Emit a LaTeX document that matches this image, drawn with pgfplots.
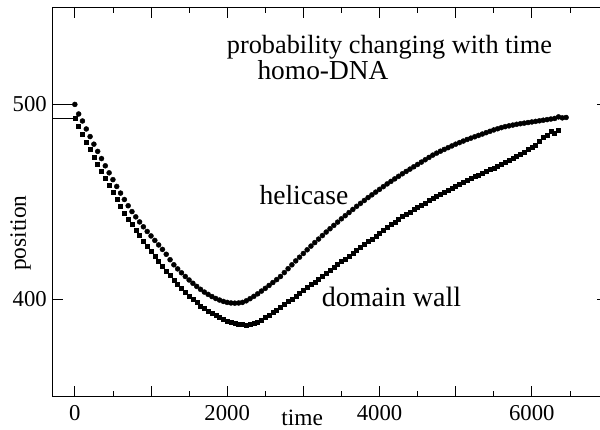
\documentclass[border=0pt]{standalone}
\usepackage{fontspec}
\setmainfont{Liberation Serif}
\usepackage{pgfplots}
\pgfplotsset{compat=1.18}

% helicase position (circles)
\pgfplotstableread{
t pos
0 500.0
50 495.1
100 491.5
150 487.4
200 483.5
250 479.6
300 475.9
350 472.2
400 468.5
450 464.9
500 461.4
550 457.9
600 454.5
650 451.2
700 448.0
750 445.0
800 442.3
850 439.7
900 437.2
950 434.8
1000 432.5
1050 430.2
1100 427.9
1150 425.6
1200 423.1
1250 420.3
1300 417.7
1350 415.6
1400 413.6
1450 411.7
1500 409.9
1550 408.2
1600 406.6
1650 405.1
1700 403.7
1750 402.5
1800 401.4
1850 400.4
1900 399.6
1950 398.9
2000 398.4
2050 398.1
2100 398.0
2150 398.1
2200 398.4
2250 399.2
2300 400.3
2350 401.5
2400 402.8
2450 404.2
2500 405.6
2550 407.1
2600 408.6
2650 410.1
2700 411.7
2750 413.7
2800 415.7
2850 417.7
2900 419.7
2950 421.6
3000 423.5
3050 425.4
3100 427.3
3150 429.1
3200 430.9
3250 432.7
3300 434.5
3350 436.2
3400 437.9
3450 439.6
3500 441.3
3550 442.9
3600 444.5
3650 446.1
3700 447.7
3750 449.2
3800 450.7
3850 452.2
3900 453.6
3950 455.0
4000 456.4
4050 457.8
4100 459.2
4150 460.5
4200 461.8
4250 463.1
4300 464.4
4350 465.6
4400 466.8
4450 468.0
4500 469.2
4550 470.4
4600 471.6
4650 472.8
4700 474.0
4750 475.0
4800 476.0
4850 476.9
4900 477.8
4950 478.7
5000 479.6
5050 480.4
5100 481.2
5150 482.0
5200 482.7
5250 483.4
5300 484.1
5350 484.8
5400 485.5
5450 486.2
5500 486.9
5550 487.5
5600 488.1
5650 488.6
5700 489.0
5750 489.4
5800 489.8
5850 490.1
5900 490.4
5950 490.7
6000 491.0
6050 491.3
6100 491.6
6150 491.9
6200 492.2
6250 492.5
6300 492.8
6350 493.6
6400 493.1
6450 493.3
}\helicase

% domain wall position (squares)
\pgfplotstableread{
t pos
0 493.0
50 489.0
100 484.6
150 480.5
200 476.8
250 473.0
300 469.4
350 465.6
400 462.0
450 458.4
500 454.8
550 451.2
600 447.8
650 444.3
700 441.3
750 438.4
800 435.5
850 432.7
900 429.9
950 427.2
1000 424.6
1050 422.0
1100 419.5
1150 417.0
1200 414.6
1250 412.3
1300 410.0
1350 407.8
1400 405.7
1450 403.7
1500 401.8
1550 400.0
1600 398.3
1650 396.7
1700 395.3
1750 394.0
1800 392.8
1850 391.7
1900 390.7
1950 389.8
2000 389.0
2050 388.3
2100 387.7
2150 387.3
2200 387.0
2250 386.9
2300 387.0
2350 387.5
2400 388.3
2450 389.4
2500 390.6
2550 391.9
2600 393.2
2650 394.5
2700 395.8
2750 397.3
2800 398.8
2850 400.2
2900 401.7
2950 403.2
3000 404.6
3050 406.1
3100 407.6
3150 409.0
3200 410.5
3250 412.0
3300 413.4
3350 414.9
3400 416.4
3450 417.8
3500 419.3
3550 420.8
3600 422.2
3650 423.7
3700 425.2
3750 426.6
3800 428.1
3850 429.6
3900 431.0
3950 432.5
4000 434.0
4050 435.4
4100 436.9
4150 438.3
4200 439.8
4250 441.2
4300 442.6
4350 443.8
4400 444.9
4450 446.1
4500 447.2
4550 448.4
4600 449.5
4650 450.7
4700 451.8
4750 452.9
4800 453.9
4850 455.0
4900 456.0
4950 457.1
5000 458.1
5050 459.2
5100 460.2
5150 461.3
5200 462.2
5250 463.1
5300 463.9
5350 464.8
5400 465.7
5450 466.6
5500 467.4
5550 468.3
5600 469.2
5650 470.3
5700 471.4
5750 472.4
5800 473.5
5850 474.6
5900 475.7
5950 476.8
6000 477.9
6050 479.0
6100 481.0
6150 483.0
6200 484.0
6250 486.2
6300 485.0
6350 487.0
}\domainwall

\begin{document}
\begin{tikzpicture}
\begin{axis}[
  at={(52pt,32.3pt)}, anchor=south west,
  width=556pt, height=389.7pt, scale only axis,
  xmin=-300, xmax=7000, ymin=350, ymax=550,
  xtick={0,1000,...,7000},
  xticklabels={0,,2000,,4000,,6000,},
  minor x tick num=1,
  ytick={400,500},
  tick align=inside,
  major tick length=11pt, minor tick length=6pt,
  axis line style={line width=0.8pt},
  every tick/.style={black, line width=0.8pt},
  /pgf/number format/assume math mode=true,
  ticklabel style={font=\fontsize{22.7}{24}\selectfont, inner sep=0pt},
  xticklabel style={yshift=-9pt},
  yticklabel style={xshift=-5pt},
  xlabel={time}, ylabel={position},
  label style={font=\fontsize{23.4}{25}\selectfont, inner sep=0pt},
  xlabel style={at={(axis description cs:0.45,0)}, anchor=north, yshift=-13pt},
  ylabel style={at={(axis description cs:-0.0378,0.42)}, anchor=south},
]
\addplot[black, line width=0.8pt] coordinates {(-300,500) (0,500)};
\addplot[black, line width=0.8pt] coordinates {(-300,493) (0,493)};
\addplot[only marks, mark=square*, mark size=2.0pt, black] table[x=t, y=pos] {\domainwall};
\addplot[only marks, mark=*, mark size=2.5pt, black] table[x=t, y=pos] {\helicase};

\node[anchor=base west, inner sep=0pt, font=\fontsize{26.3}{28}\selectfont] at (axis cs:1994,526) {probability changing with time};
\node[anchor=base west, inner sep=0pt, font=\fontsize{27.4}{29}\selectfont] at (axis cs:2396,512.9) {homo-DNA};
\node[anchor=base west, inner sep=0pt, font=\fontsize{27.6}{29}\selectfont] at (axis cs:2422,448.7) {helicase};
\node[anchor=base west, inner sep=0pt, font=\fontsize{28}{30}\selectfont] at (axis cs:3241,396.5) {domain wall};
\end{axis}
\pgfresetboundingbox
\useasboundingbox (0,0) rectangle (600pt,429pt);
\end{tikzpicture}
\end{document}
